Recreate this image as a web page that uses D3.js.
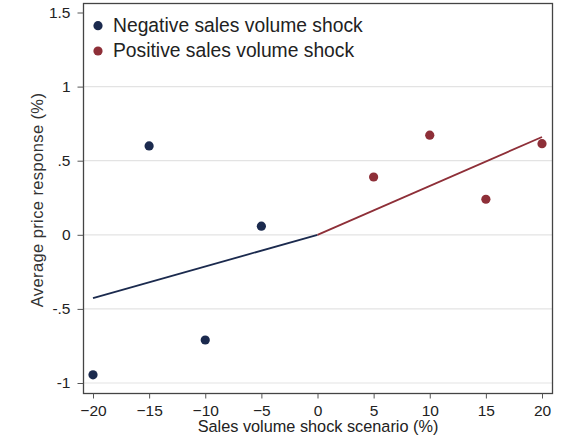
<!DOCTYPE html>
<html>
<head>
<meta charset="utf-8">
<script src="https://cdn.jsdelivr.net/npm/d3@7/dist/d3.min.js"></script>
<style>
  html, body { margin: 0; padding: 0; background: #fff; }
  svg { display: block; font-family: "Liberation Sans", Arial, sans-serif; }
</style>
</head>
<body>
<svg id="chart" width="564" height="441"></svg>
<script>
// Shock scenarios (%) and average price responses (%)
const negScenario = [-20, -15, -10, -5];
const negResponse = [-0.945, 0.6, -0.71, 0.058];
const posScenario = [5, 10, 15, 20];
const posResponse = [0.39, 0.672, 0.24, 0.615];

// Fitted lines through the origin, one per shock sign
const negFitX = [-20, 0];
const negFitY = [-0.428, 0];
const posFitX = [0, 20];
const posFitY = [0, 0.66];

const xTicks = [-20, -15, -10, -5, 0, 5, 10, 15, 20];
const yTicks = [-1, -0.5, 0, 0.5, 1, 1.5];
const yTickLabels = ["-1", "-.5", "0", ".5", "1", "1.5"];
const legendLabels = ["Negative sales volume shock", "Positive sales volume shock"];

const navy = "#1b2a4e";
const red = "#8e2f38";

const svg = d3.select("#chart");
const frame = { left: 83.5, right: 552.5, top: 3.5, bottom: 393.5 };

const x = d3.scaleLinear().domain([-20, 20]).range([93, 542]);
const y = d3.scaleLinear().domain([-1, 1.5]).range([383, 12.5]);

// Horizontal gridlines
svg.append("g")
  .selectAll("line")
  .data(yTicks.filter(v => v < 1.5))
  .join("line")
  .attr("x1", frame.left).attr("x2", frame.right)
  .attr("y1", d => y(d)).attr("y2", d => y(d))
  .attr("stroke", "#e3e3e3").attr("stroke-width", 1.2);

// Plot frame
svg.append("rect")
  .attr("x", frame.left).attr("y", frame.top)
  .attr("width", frame.right - frame.left)
  .attr("height", frame.bottom - frame.top)
  .attr("fill", "none").attr("stroke", "#444").attr("stroke-width", 1.3);

// X axis
const xAxis = d3.axisBottom(x).tickValues(xTicks).tickSize(5).tickPadding(6).tickFormat(d3.format("d"));
const gx = svg.append("g").attr("transform", `translate(0,${frame.bottom})`).call(xAxis);
gx.select(".domain").remove();
gx.selectAll("line").attr("stroke", "#555");
gx.selectAll("text").attr("fill", "#222").style("font-size", "15.5px").style("font-family", "Liberation Sans, Arial, sans-serif");

// Y axis
const yAxis = d3.axisLeft(y).tickValues(yTicks).tickSize(6).tickPadding(7)
  .tickFormat((d, i) => yTickLabels[i]);
const gy = svg.append("g").attr("transform", `translate(${frame.left},0)`).call(yAxis);
gy.select(".domain").remove();
gy.selectAll("line").attr("stroke", "#555");
gy.selectAll("text").attr("fill", "#222").style("font-size", "15.5px").style("font-family", "Liberation Sans, Arial, sans-serif");

// Axis titles
svg.append("text")
  .attr("x", (frame.left + frame.right) / 2).attr("y", 432)
  .attr("text-anchor", "middle")
  .attr("fill", "#222").style("font-size", "16.3px")
  .text("Sales volume shock scenario (%)");

svg.append("text")
  .attr("transform", `translate(43,200) rotate(-90)`)
  .attr("text-anchor", "middle")
  .attr("fill", "#333").style("font-size", "16.5px")
  .style("letter-spacing", "0.4px")
  .text("Average price response (%)");

// Fitted lines
const line = d3.line().x(d => x(d[0])).y(d => y(d[1]));
svg.append("path")
  .datum(d3.zip(negFitX, negFitY))
  .attr("d", line).attr("fill", "none").attr("stroke", navy).attr("stroke-width", 1.8);
svg.append("path")
  .datum(d3.zip(posFitX, posFitY))
  .attr("d", line).attr("fill", "none").attr("stroke", red).attr("stroke-width", 1.8);

// Scatter points
svg.append("g").selectAll("circle")
  .data(d3.zip(negScenario, negResponse))
  .join("circle")
  .attr("cx", d => x(d[0])).attr("cy", d => y(d[1])).attr("r", 4.6)
  .attr("fill", navy);
svg.append("g").selectAll("circle")
  .data(d3.zip(posScenario, posResponse))
  .join("circle")
  .attr("cx", d => x(d[0])).attr("cy", d => y(d[1])).attr("r", 4.6)
  .attr("fill", red);

// Legend
const legend = svg.append("g");
[navy, red].forEach((c, i) => {
  const ly = 25.7 + i * 25.3;
  legend.append("circle").attr("cx", 98).attr("cy", ly).attr("r", 4.6).attr("fill", c);
  legend.append("text")
    .attr("x", 113).attr("y", ly + 6.3)
    .attr("fill", "#222").style("font-size", "19.3px")
    .text(legendLabels[i]);
});
</script>
</body>
</html>
